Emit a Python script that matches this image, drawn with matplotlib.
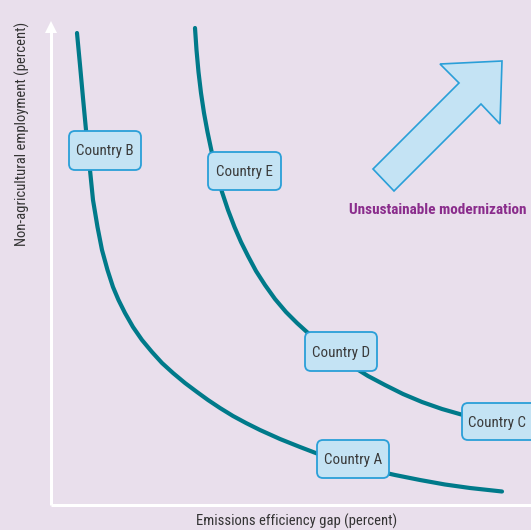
import matplotlib
matplotlib.use("Agg")
import matplotlib.pyplot as plt
import matplotlib.patches as patches

FONTS = ['Roboto Condensed', 'DejaVu Sans Condensed', 'Liberation Sans Narrow', 'Roboto', 'DejaVu Sans']
plt.rcParams['font.family'] = FONTS

BG = '#e9dfec'
TEAL = '#007a8a'
BOX_FACE = '#c4e3f4'
BOX_EDGE = '#2a9fd8'
PURPLE = '#8a2c8c'

# schematic curves (pixel space of the 531x530 figure)
curve_low_x = [77, 80, 83, 86, 88, 90, 93, 97.5, 102, 107.5, 113, 118.5, 125, 133, 142, 152, 162, 173, 185,
               197, 208, 220, 233, 246, 260, 280, 300, 317, 335, 355, 375, 395, 420, 445, 470, 502]
curve_low_y = [33, 65, 98, 130, 150, 170, 200, 227, 250, 270, 287, 300, 313, 327, 340, 352, 363, 373, 383,
               392, 400, 408, 416, 423, 430, 439, 447, 453.5, 459.5, 465.5, 470.5, 475, 480, 484.5, 488, 491.5]
curve_high_x = [195, 196.5, 198.5, 201, 204, 207.5, 211.5, 216.5, 222, 228, 234.5, 241, 248, 256, 265, 275,
                286, 297, 308, 321, 336, 352, 368, 385, 403, 422, 442, 463, 490]
curve_high_y = [28, 50, 72, 93, 113, 132, 151, 172, 192, 210, 227, 242, 256, 271, 285, 299,
                312, 323, 333, 344, 355, 366, 376, 385, 394, 402, 409, 415, 422]

# country label boxes: name, left, top, right, bottom
countries = ['Country B', 'Country E', 'Country D', 'Country C', 'Country A']
box_left = [69, 208, 305, 462, 317]
box_top = [131, 152, 332, 403, 440]
box_right = [141, 281, 377, 540, 389]
box_bottom = [170, 190, 371, 440, 478]
label_x = [105, 244, 341, 497, 353]

arrow_x = [373, 394, 481, 500, 502, 440, 459]
arrow_y = [169, 191, 104, 124, 61, 64, 83]

fig = plt.figure(figsize=(5.31, 5.30), dpi=100)
fig.patch.set_facecolor(BG)
ax = fig.add_axes([0, 0, 1, 1])
ax.set_facecolor(BG)
ax.set_xlim(0, 531)
ax.set_ylim(530, 0)
ax.axis('off')

# axes
ax.plot([51, 531], [505, 505], color='white', lw=2.2, solid_capstyle='butt', zorder=1)
ax.plot([51, 51], [505, 32], color='white', lw=2.2, solid_capstyle='butt', zorder=1)
ax.add_patch(patches.Polygon([(45, 33), (57, 33), (51, 21)], closed=True,
                             facecolor='white', edgecolor='none', zorder=1))

ax.plot(curve_low_x, curve_low_y, color=TEAL, lw=3, solid_capstyle='round',
        solid_joinstyle='round', zorder=2)
ax.plot(curve_high_x, curve_high_y, color=TEAL, lw=3, solid_capstyle='round',
        solid_joinstyle='round', zorder=2)

for name, l, t, r, b, lx in zip(countries, box_left, box_top, box_right, box_bottom, label_x):
    box = patches.FancyBboxPatch((l + 6, t + 6), r - l - 12, b - t - 12,
                                 boxstyle='round,pad=6', facecolor=BOX_FACE,
                                 edgecolor=BOX_EDGE, lw=1.3, zorder=3)
    ax.add_patch(box)
    ax.text(lx, (t + b) / 2 + 1, name, ha='center', va='center',
            fontsize=10.8, color='#3a3a3a', zorder=4)

ax.add_patch(patches.Polygon(list(zip(arrow_x, arrow_y)), closed=True,
                             facecolor=BOX_FACE, edgecolor=BOX_EDGE, lw=1.2, zorder=3))

ax.text(349, 210, 'Unsustainable modernization', ha='left', va='center',
        fontsize=11, fontweight='bold', color=PURPLE, zorder=4)

ax.text(22, 134, 'Non-agricultural employment (percent)', rotation=90,
        ha='center', va='center', fontsize=10.5, color='#333333')
ax.text(297, 521, 'Emissions efficiency gap (percent)', ha='center', va='center',
        fontsize=10.5, color='#333333')

fig.savefig('out.png', dpi=100, facecolor=BG)
